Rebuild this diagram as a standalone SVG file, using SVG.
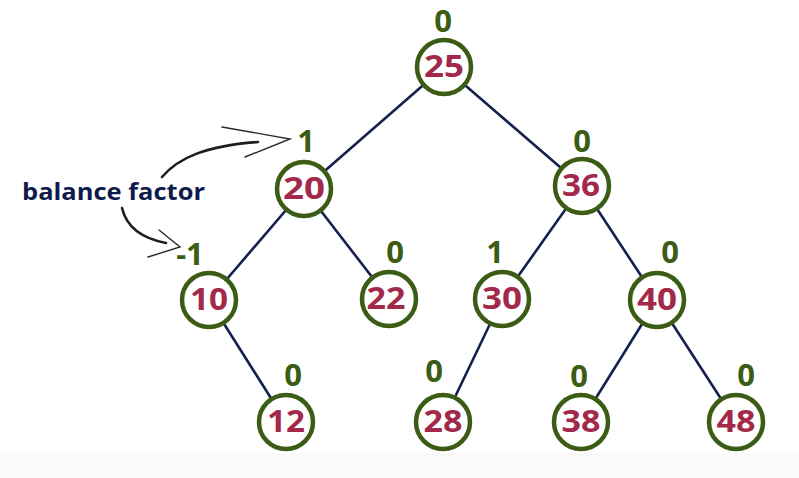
<svg xmlns="http://www.w3.org/2000/svg" width="799" height="478" viewBox="0 0 799 478">
  <style>
    .edge { stroke: #16204f; stroke-width: 2.6; fill: none; }
    .node circle { fill: #ffffff; stroke: #3a5c15; stroke-width: 4.5; }
    .node text.val { font-family: "Open Sans", "Liberation Sans", sans-serif; font-weight: bold; font-size: 31px; fill: #a3294b; text-anchor: middle; }
    .bf { font-family: "Open Sans", "Liberation Sans", sans-serif; font-weight: bold; font-size: 31px; fill: #3a5c15; text-anchor: middle; }
    .note { font-family: "Open Sans", "Liberation Sans", sans-serif; font-weight: bold; font-size: 24px; fill: #0f1a4c; }
    .curve { stroke: #1e1e1e; stroke-width: 2.6; fill: none; stroke-linecap: round; }
    .barb { stroke: #2a2a2a; stroke-width: 1.4; fill: none; stroke-linecap: round; }
  </style>

  <rect x="0" y="0" width="799" height="478" fill="#ffffff"/>
  <rect x="0" y="453" width="799" height="25" fill="#fafafa"/>

  <!-- tree edges -->
  <g id="connectors">
    <line class="edge" x1="444" y1="67" x2="304" y2="189"/>
    <line class="edge" x1="444" y1="67" x2="582" y2="186"/>
    <line class="edge" x1="304" y1="189" x2="209" y2="300"/>
    <line class="edge" x1="304" y1="189" x2="389" y2="299"/>
    <line class="edge" x1="582" y1="186" x2="502" y2="299"/>
    <line class="edge" x1="582" y1="186" x2="657" y2="300"/>
    <line class="edge" x1="209" y1="300" x2="286" y2="422"/>
    <line class="edge" x1="502" y1="299" x2="443" y2="422"/>
    <line class="edge" x1="657" y1="300" x2="581" y2="422"/>
    <line class="edge" x1="657" y1="300" x2="736" y2="422"/>
  </g>

  <!-- nodes with their balance factors -->
  <g id="n25" class="node">
    <circle cx="444" cy="67" r="27"/>
    <text class="val" x="444" y="77" textLength="40" lengthAdjust="spacingAndGlyphs">25</text>
    <text class="bf" x="443" y="32">0</text>
  </g>
  <g id="n20" class="node">
    <circle cx="304" cy="189" r="27"/>
    <text class="val" x="304" y="199" textLength="42" lengthAdjust="spacingAndGlyphs">20</text>
    <text class="bf" x="306" y="152">1</text>
  </g>
  <g id="n36" class="node">
    <circle cx="582" cy="186" r="27"/>
    <text class="val" x="581" y="196" textLength="38" lengthAdjust="spacingAndGlyphs">36</text>
    <text class="bf" x="582" y="152">0</text>
  </g>
  <g id="n10" class="node">
    <circle cx="209" cy="300" r="27"/>
    <text class="val" x="209" y="310" textLength="38" lengthAdjust="spacingAndGlyphs">10</text>
    <text class="bf" x="190" y="265">-1</text>
  </g>
  <g id="n22" class="node">
    <circle cx="389" cy="299" r="27"/>
    <text class="val" x="386" y="309" textLength="39" lengthAdjust="spacingAndGlyphs">22</text>
    <text class="bf" x="395" y="263">0</text>
  </g>
  <g id="n30" class="node">
    <circle cx="502" cy="299" r="27"/>
    <text class="val" x="502" y="309" textLength="40" lengthAdjust="spacingAndGlyphs">30</text>
    <text class="bf" x="495" y="263">1</text>
  </g>
  <g id="n40" class="node">
    <circle cx="657" cy="300" r="27"/>
    <text class="val" x="657" y="310" textLength="40" lengthAdjust="spacingAndGlyphs">40</text>
    <text class="bf" x="670" y="263">0</text>
  </g>
  <g id="n12" class="node">
    <circle cx="286" cy="422" r="27"/>
    <text class="val" x="286" y="432" textLength="38" lengthAdjust="spacingAndGlyphs">12</text>
    <text class="bf" x="293" y="386">0</text>
  </g>
  <g id="n28" class="node">
    <circle cx="443" cy="422" r="27"/>
    <text class="val" x="443" y="432" textLength="39" lengthAdjust="spacingAndGlyphs">28</text>
    <text class="bf" x="434" y="382">0</text>
  </g>
  <g id="n38" class="node">
    <circle cx="581" cy="422" r="27"/>
    <text class="val" x="581" y="432" textLength="39" lengthAdjust="spacingAndGlyphs">38</text>
    <text class="bf" x="579" y="387">0</text>
  </g>
  <g id="n48" class="node">
    <circle cx="736" cy="422" r="27"/>
    <text class="val" x="736" y="432" textLength="39" lengthAdjust="spacingAndGlyphs">48</text>
    <text class="bf" x="746" y="386">0</text>
  </g>

  <!-- annotation with hand-drawn pointers -->
  <g id="annotation">
    <text class="note" x="22" y="200" textLength="183" lengthAdjust="spacingAndGlyphs">balance factor</text>
    <path class="curve" d="M162 177 C 178 158, 205 146, 258 142"/>
    <path class="barb" d="M222 127 L 290 139 L 245 157"/>
    <path class="curve" d="M122 208 C 126 225, 140 238, 166 243"/>
    <path class="barb" d="M159 230 L 180 247 L 148 257"/>
  </g>
</svg>
